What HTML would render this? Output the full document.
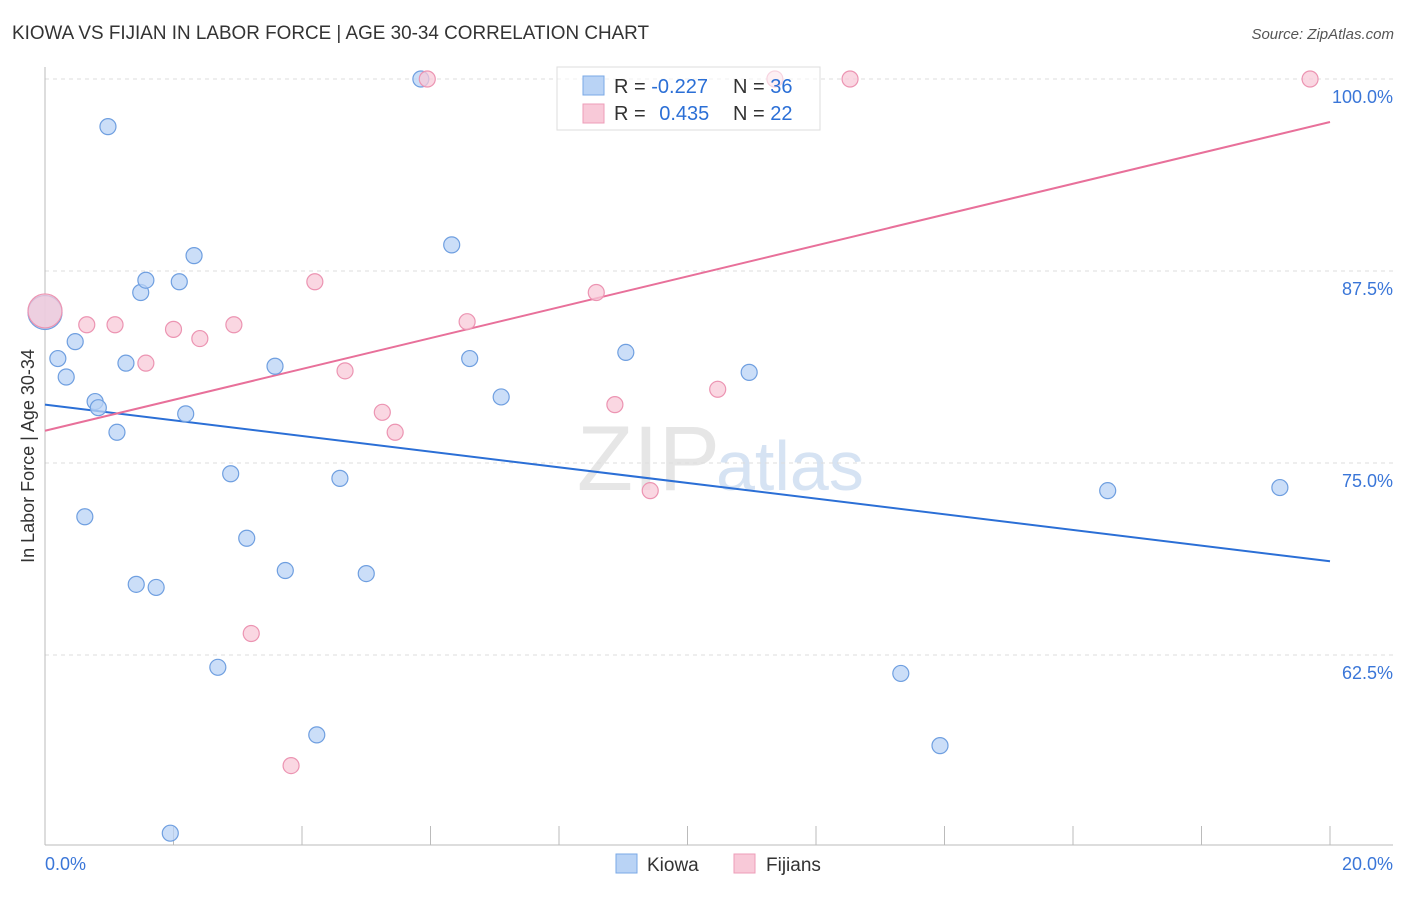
<!DOCTYPE html>
<html><head><meta charset="utf-8"><style>
body{margin:0;background:#fff;font-family:"Liberation Sans",sans-serif}
svg text{font-family:"Liberation Sans",sans-serif}
</style></head><body>
<svg id="c" width="1406" height="892" xmlns="http://www.w3.org/2000/svg">
<text x="12" y="39" font-size="19" fill="#333" textLength="637" lengthAdjust="spacingAndGlyphs">KIOWA VS FIJIAN IN LABOR FORCE | AGE 30-34 CORRELATION CHART</text>
<text x="1394" y="39" font-size="15" fill="#555" text-anchor="end" font-style="italic">Source: ZipAtlas.com</text>
<text x="720" y="490" font-size="92" fill="#e6e6e6" text-anchor="end" font-family="Liberation Serif">ZIP</text>
<text x="716" y="490" font-size="70" fill="#d6e3f3">atlas</text>
<text x="34" y="456" font-size="18" fill="#333" text-anchor="middle" transform="rotate(-90 34 456)">In Labor Force | Age 30-34</text>
<g id="grid"></g><g id="axes"></g><g id="lines"></g><g id="pts"></g>
<g>
<rect x="557" y="67" width="263" height="63" fill="#fff" fill-opacity="0.6" stroke="#ddd"/>
<rect x="583" y="76" width="21" height="19" fill="#b9d3f5" stroke="#7aa8e6"/>
<rect x="583" y="104" width="21" height="19" fill="#f8c9d8" stroke="#ee9db8"/>
<text x="614" y="93" font-size="20" fill="#333">R = <tspan fill="#2b6fd6">-0.227</tspan></text>
<text x="733" y="93" font-size="20" fill="#333">N = <tspan fill="#2b6fd6">36</tspan></text>
<text x="614" y="120" font-size="20" fill="#333">R = <tspan fill="#2b6fd6" dx="8">0.435</tspan></text>
<text x="733" y="120" font-size="20" fill="#333">N = <tspan fill="#2b6fd6">22</tspan></text>
</g>
<g>
<rect x="616" y="854" width="21" height="19" fill="#b9d3f5" stroke="#7aa8e6"/>
<text x="647" y="871" font-size="19" fill="#333">Kiowa</text>
<rect x="734" y="854" width="21" height="19" fill="#f8c9d8" stroke="#ee9db8"/>
<text x="766" y="871" font-size="19" fill="#333">Fijians</text>
</g>
</svg>
<script>
const kiowaX=[0,0.98,0.2,0.47,0.33,0.78,0.83,1.12,0.62,1.26,1.49,1.57,2.09,2.32,2.19,1.42,1.73,2.89,3.14,2.69,1.95,3.58,3.74,4.59,5.0,4.23,5.85,6.33,6.61,7.1,9.04,10.96,16.54,19.22,13.32,13.93];
const kiowaY=[84.8,96.9,81.8,82.9,80.6,79.0,78.6,77.0,71.5,81.5,86.1,86.9,86.8,88.5,78.2,67.1,66.9,74.3,70.1,61.7,50.9,81.3,68.0,74.0,67.8,57.3,100,89.2,81.8,79.3,82.2,80.9,73.2,73.4,61.3,56.6];
const fijiX=[0,0.65,1.09,1.57,2.0,2.41,2.94,3.21,3.83,4.2,4.67,5.25,5.45,5.95,6.57,8.58,8.87,9.42,10.47,11.36,12.53,19.69];
const fijiY=[84.9,84.0,84.0,81.5,83.7,83.1,84.0,63.9,55.3,86.8,81.0,78.3,77.0,100,84.2,86.1,78.8,73.2,79.8,100,100,100];
const kiowaTrend=[78.8,68.6];
const fijiTrend=[77.1,97.2];
const yTicks=[100,87.5,75,62.5];
const yTickLabels=["100.0%","87.5%","75.0%","62.5%"];
const xTicks=[0,2,4,6,8,10,12,14,16,18,20];
const NS="http://www.w3.org/2000/svg";
const sx=v=>45+v*64.25, sy=v=>79+(100-v)*15.36;
function mk(t,a,p){const e=document.createElementNS(NS,t);for(const k in a)e.setAttribute(k,a[k]);document.getElementById(p).appendChild(e);return e;}
yTicks.forEach((t,i)=>{
 const l=mk('line',{x1:45,x2:1393,y1:sy(t),y2:sy(t),stroke:'#ddd','stroke-dasharray':'4 4'},'grid');
 
 
 const tx=mk('text',{x:1393,y:sy(t)+24,'font-size':18,fill:'#3a76d8','text-anchor':'end'},'grid');
 tx.textContent=yTickLabels[i];
 
 
});
const ax=mk('line',{x1:45,x2:1393,y1:845,y2:845,stroke:'#bbb'},'axes');


const ay=mk('line',{x1:45,x2:45,y1:67,y2:845,stroke:'#bbb'},'axes');


xTicks.forEach(t=>{
 const l=mk('line',{x1:sx(t),x2:sx(t),y1:826,y2:845,stroke:'#bbb'},'axes');
 
 
});
const x0=mk('text',{x:45,y:870,'font-size':18,fill:'#3a76d8'},'axes');x0.textContent='0.0%';


const x1=mk('text',{x:1393,y:870,'font-size':18,fill:'#3a76d8','text-anchor':'end'},'axes');x1.textContent='20.0%';


const kl=mk('line',{x1:sx(0),x2:sx(20),y1:sy(kiowaTrend[0]),y2:sy(kiowaTrend[1]),stroke:'#2b6fd6','stroke-width':2},'lines');


const fl=mk('line',{x1:sx(0),x2:sx(20),y1:sy(fijiTrend[0]),y2:sy(fijiTrend[1]),stroke:'#e8709a','stroke-width':2},'lines');


function pts(X,Y,fill,stroke,name){X.forEach((x,i)=>{
 const c=mk('circle',{cx:sx(x),cy:sy(Y[i]),r:i===0?17:8,fill:fill,'fill-opacity':0.75,stroke:stroke,'stroke-width':1.2},'pts');
 
 
});}
pts(kiowaX,kiowaY,'#b9d3f5','#6f9fe0','kiowa-point');
pts(fijiX,fijiY,'#f8c9d8','#ec94b2','fijian-point');
</script>
</body></html>
